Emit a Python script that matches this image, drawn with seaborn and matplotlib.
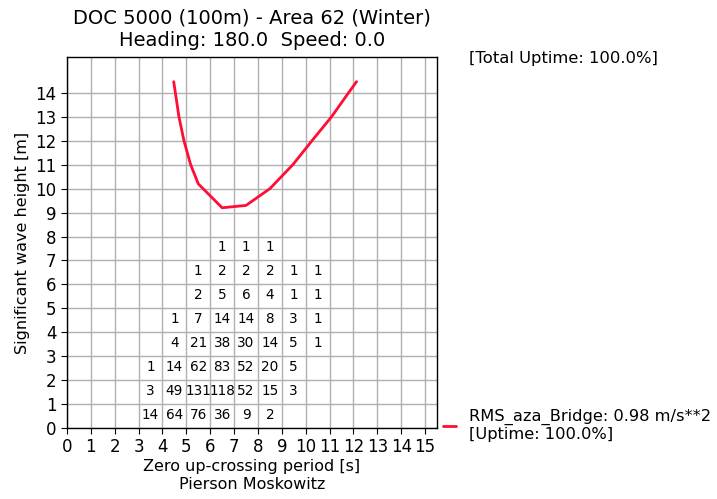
import matplotlib
matplotlib.use("Agg")
import matplotlib.pyplot as plt
import seaborn as sns
import pandas as pd

# scatter diagram: (Tz cell centre, Hs cell centre, count)
tz_cells = [3.5, 4.5, 5.5, 6.5, 7.5, 8.5,
            3.5, 4.5, 5.5, 6.5, 7.5, 8.5, 9.5,
            3.5, 4.5, 5.5, 6.5, 7.5, 8.5, 9.5,
            4.5, 5.5, 6.5, 7.5, 8.5, 9.5, 10.5,
            4.5, 5.5, 6.5, 7.5, 8.5, 9.5, 10.5,
            5.5, 6.5, 7.5, 8.5, 9.5, 10.5,
            5.5, 6.5, 7.5, 8.5, 9.5, 10.5,
            6.5, 7.5, 8.5]
hs_cells = [0.5] * 6 + [1.5] * 7 + [2.5] * 7 + [3.5] * 7 + [4.5] * 7 + [5.5] * 6 + [6.5] * 6 + [7.5] * 3
counts = [14, 64, 76, 36, 9, 2,
          3, 49, 131, 118, 52, 15, 3,
          1, 14, 62, 83, 52, 20, 5,
          4, 21, 38, 30, 14, 5, 1,
          1, 7, 14, 14, 8, 3, 1,
          2, 5, 6, 4, 1, 1,
          1, 2, 2, 2, 1, 1,
          1, 1, 1]

# limiting curve RMS_aza_Bridge
curve_tz = [4.47, 4.69, 4.90, 5.18, 5.50, 6.50, 7.50, 8.50, 9.46, 10.26, 11.08, 11.79, 12.13]
curve_hs = [14.47, 13.0, 12.0, 11.0, 10.2, 9.2, 9.3, 10.0, 11.0, 12.0, 13.0, 14.0, 14.47]

sns.set_style("ticks")
plt.rcParams["font.family"] = ["DejaVu Sans"]
plt.rcParams["text.color"] = "black"
plt.rcParams["axes.labelcolor"] = "black"
plt.rcParams["xtick.color"] = "black"
plt.rcParams["ytick.color"] = "black"


def plotScatterDiagram():
    fig = plt.figure(figsize=(7.17, 4.99), dpi=100)
    ax = fig.add_axes([67 / 717, 1 - 428 / 499, 370 / 717, 371 / 499])

    df = pd.DataFrame({"Tz": curve_tz, "Hs": curve_hs})
    sns.lineplot(data=df, x="Tz", y="Hs", ax=ax, color="#ff0d35", linewidth=2,
                 sort=False, estimator=None,
                 label="RMS_aza_Bridge: 0.98 m/s**2\n[Uptime: 100.0%]")

    for x, y, c in zip(tz_cells, hs_cells, counts):
        ax.text(x, y + 0.05, str(c), ha="center", va="center", fontsize=9.8)

    ax.set_xlim(0, 15.5)
    ax.set_ylim(0, 15.5)
    ax.set_xticks(range(0, 16))
    ax.set_yticks(range(0, 15))
    ax.tick_params(labelsize=12, direction="out", length=4, color="black")
    ax.grid(True, color="#b0b0b0", linewidth=1)
    for s in ax.spines.values():
        s.set_color("black")
        s.set_linewidth(1)

    ax.set_xlabel("Zero up-crossing period [s]\nPierson Moskowitz", fontsize=11.5, labelpad=2)
    ax.set_ylabel("Significant wave height [m]", fontsize=11.5)
    ax.set_title("DOC 5000 (100m) - Area 62 (Winter)\nHeading: 180.0  Speed: 0.0", fontsize=14, pad=8)

    fig.text(469 / 717, 1 - 58 / 499, "[Total Uptime: 100.0%]", fontsize=11.8, va="center")

    ax.legend(loc="lower left", bbox_to_anchor=(0.978, -0.078), frameon=False,
              fontsize=11.7, handlelength=0.8, handletextpad=0.8)

    fig.savefig("out.png", dpi=100)


def main():
    plotScatterDiagram()


if __name__ == "__main__":
    main()
